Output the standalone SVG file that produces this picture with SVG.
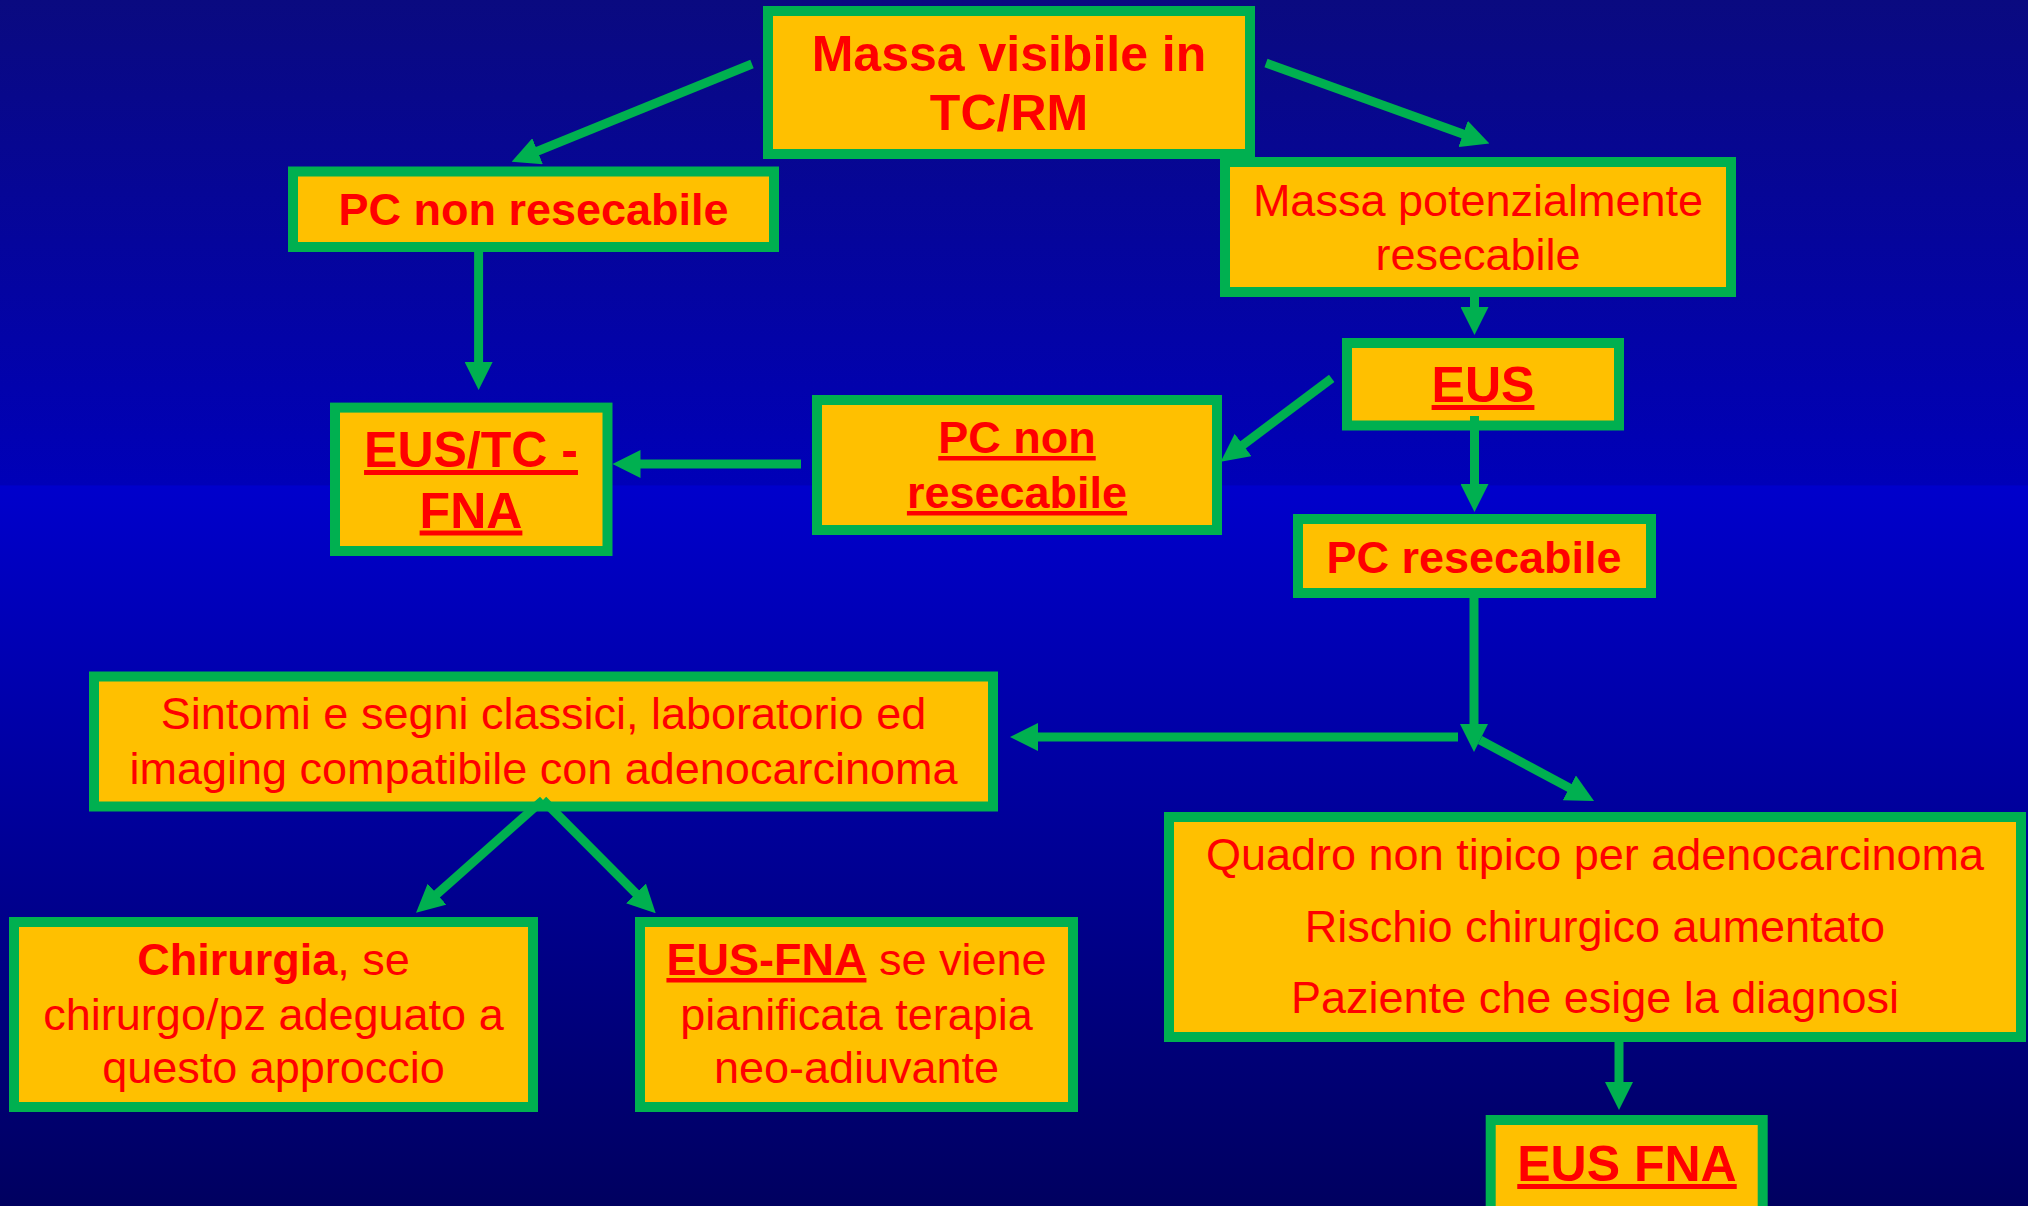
<svg xmlns="http://www.w3.org/2000/svg" width="2028" height="1206" viewBox="0 0 2028 1206">
<defs>
<linearGradient id="bg" x1="0" y1="0" x2="0" y2="1">
<stop offset="0" stop-color="#0a0a80"/>
<stop offset="0.402" stop-color="#0000b8"/>
<stop offset="0.403" stop-color="#0000cc"/>
<stop offset="1" stop-color="#000060"/>
</linearGradient>
<marker id="ah" markerUnits="userSpaceOnUse" markerWidth="28" markerHeight="28" viewBox="0 0 28 28" refX="8" refY="14" orient="auto">
<path d="M0,0 L28,14 L0,28 z" fill="#00B050"/>
</marker>
<style>
.box{fill:#FFC000;stroke:#00B050;stroke-width:10}
.t{font-family:"Liberation Sans",Arial,sans-serif;fill:#FF0000;text-anchor:middle;font-size:45px}
.b{font-weight:bold}
.big{font-size:50px}
.u{text-decoration:underline}
.c{stroke:#00B050;stroke-width:9;fill:none;marker-end:url(#ah)}
</style>
</defs>
<rect x="0" y="0" width="2028" height="1206" fill="url(#bg)"/>

<g id="n-massa-visibile">
<rect class="box" x="768" y="11" width="482" height="143"/>
<text class="t b big" x="1009" y="71">Massa visibile in</text>
<text class="t b big" x="1009" y="130">TC/RM</text>
</g>
<g id="n-pc-non-resecabile-1">
<rect class="box" x="293" y="171.5" width="481" height="75.5"/>
<text class="t b" x="533.5" y="225">PC non resecabile</text>
</g>
<g id="n-eus-tc-fna">
<rect class="box" x="335" y="407.6" width="272.5" height="143.4"/>
<text class="t b big u" x="471" y="467">EUS/TC -</text>
<text class="t b big u" x="471" y="527.5">FNA</text>
</g>
<g id="n-pc-non-resecabile-2">
<rect class="box" x="817" y="400" width="400" height="130"/>
<text class="t b u" x="1017" y="453">PC non</text>
<text class="t b u" x="1017" y="508">resecabile</text>
</g>
<g id="n-massa-potenzialmente">
<rect class="box" x="1225" y="162" width="506" height="130"/>
<text class="t" x="1478" y="216">Massa potenzialmente</text>
<text class="t" x="1478" y="270">resecabile</text>
</g>
<g id="n-eus">
<rect class="box" x="1347" y="343" width="272" height="82.5"/>
<text class="t b big u" x="1483" y="402">EUS</text>
</g>
<g id="n-pc-resecabile">
<rect class="box" x="1298" y="519" width="353" height="74"/>
<text class="t b" x="1474" y="573">PC resecabile</text>
</g>
<g id="n-sintomi">
<rect class="box" x="94" y="676.5" width="899" height="130"/>
<text class="t" x="543.5" y="729">Sintomi e segni classici, laboratorio ed</text>
<text class="t" x="543.5" y="784">imaging compatibile con adenocarcinoma</text>
</g>
<g id="n-chirurgia">
<rect class="box" x="14" y="922" width="519" height="185"/>
<text class="t" x="273.5" y="975"><tspan class="b">Chirurgia</tspan>, se</text>
<text class="t" x="273.5" y="1030">chirurgo/pz adeguato a</text>
<text class="t" x="273.5" y="1083">questo approccio</text>
</g>
<g id="n-eus-fna-neo">
<rect class="box" x="640" y="922" width="433" height="185"/>
<text class="t" x="856.5" y="975"><tspan class="b u">EUS-FNA</tspan> se viene</text>
<text class="t" x="856.5" y="1030">pianificata terapia</text>
<text class="t" x="856.5" y="1083">neo-adiuvante</text>
</g>
<g id="n-quadro">
<rect class="box" x="1169" y="817" width="852" height="220"/>
<text class="t" x="1595" y="869.5">Quadro non tipico per adenocarcinoma</text>
<text class="t" x="1595" y="942">Rischio chirurgico aumentato</text>
<text class="t" x="1595" y="1012.5">Paziente che esige la diagnosi</text>
</g>
<g id="n-eus-fna">
<rect class="box" x="1490.7" y="1120" width="272" height="100"/>
<text class="t b big u" x="1627" y="1181">EUS FNA</text>
</g>

<g id="connectors">
<line class="c" x1="752" y1="64" x2="530.2" y2="154.2"/>
<line class="c" x1="1266" y1="63" x2="1470.6" y2="136.7"/>
<line class="c" x1="478.6" y1="252" x2="478.6" y2="370"/>
<line class="c" x1="1474.5" y1="297" x2="1474.5" y2="315"/>
<line class="c" x1="1331.7" y1="378.3" x2="1236.7" y2="449.7"/>
<line class="c" x1="1474.5" y1="416" x2="1474.5" y2="492"/>
<line class="c" x1="801" y1="464" x2="632.5" y2="464"/>
<line class="c" x1="1474" y1="597" x2="1474" y2="732"/>
<line class="c" x1="1458" y1="737" x2="1030" y2="737"/>
<line class="c" x1="1480" y1="740" x2="1576.4" y2="791.6"/>
<line class="c" x1="543" y1="800" x2="431" y2="899.4"/>
<line class="c" x1="543" y1="800" x2="641.6" y2="899.1"/>
<line class="c" x1="1619" y1="1042" x2="1619" y2="1090"/>
</g>
</svg>
